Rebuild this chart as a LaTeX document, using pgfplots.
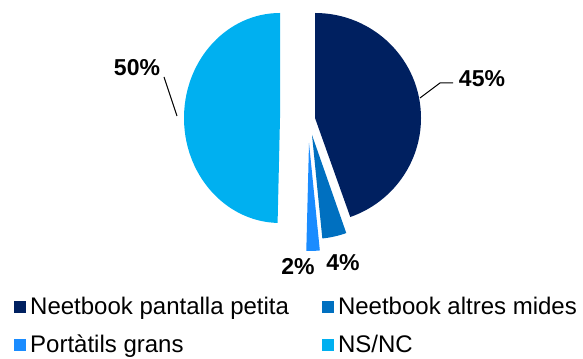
\documentclass[border=0pt]{standalone}
\usepackage{fontspec}
\setmainfont{Liberation Sans}
\usepackage{pgfplots}
\usepackage{pgfplotstable}
\pgfplotsset{compat=1.18}

\definecolor{pieA}{HTML}{002060}
\definecolor{pieB}{HTML}{0070C0}
\definecolor{pieC}{HTML}{1A8CFF}
\definecolor{pieD}{HTML}{00B0F0}

% share (%), colour, apex position (px, y down), radii
\pgfplotstableread{
share col  ax  ay  rx  ry
44.6  pieA 315 118 106 105
3.8   pieB 312 135 103 104
2.0   pieC 309 143 108 108
49.6  pieD 280 118 96  105
}\slices

\begin{document}
\begin{tikzpicture}
\begin{axis}[
  x=1pt, y=1pt,
  xmin=0, xmax=583, ymin=0, ymax=358,
  hide axis, clip=false,
  legend columns=2,
  legend cell align=left,
  legend image code/.code={\path[#1] (0pt,-6pt) rectangle (12pt,6pt); \path (14pt,0pt);},
  legend style={at={(axis cs:11,65)}, anchor=north west, draw=none, fill=none,
    font=\fontsize{24}{28}\selectfont, row sep=15pt,
    /tikz/every even column/.append style={column sep=31pt}},
]
\path (axis cs:0,0) rectangle (axis cs:583,358);

\def\cum{0}
\pgfplotsforeachungrouped \i in {0,...,3}{%
  \pgfplotstablegetelem{\i}{share}\of\slices \let\v\pgfplotsretval
  \pgfplotstablegetelem{\i}{col}\of\slices \let\c\pgfplotsretval
  \pgfplotstablegetelem{\i}{ax}\of\slices \let\ax\pgfplotsretval
  \pgfplotstablegetelem{\i}{ay}\of\slices \let\ay\pgfplotsretval
  \pgfplotstablegetelem{\i}{rx}\of\slices \let\rx\pgfplotsretval
  \pgfplotstablegetelem{\i}{ry}\of\slices \let\ry\pgfplotsretval
  \pgfmathsetmacro\aa{90-3.6*\cum}
  \pgfmathsetmacro\ab{90-3.6*(\cum+\v)}
  \pgfmathsetmacro\yy{358-\ay}
  \edef\temp{\noexpand\fill[\c] (axis cs:\ax,\yy) -- ++(\aa:\rx pt and \ry pt)
    arc[start angle=\aa, end angle=\ab, x radius=\rx pt, y radius=\ry pt] -- cycle;}
  \temp
  \pgfmathsetmacro\cum{\cum+\v}
}

% data labels
\begin{scope}[font=\bfseries\fontsize{23}{27}\selectfont]
\node at (axis cs:482,279) {45\%};
\node at (axis cs:137,290) {50\%};
\node at (axis cs:298,91) {2\%};
\node at (axis cs:343,95) {4\%};
\end{scope}
\draw[line width=1pt] (axis cs:420,260) -- (axis cs:440,275) -- (axis cs:453,275);
\draw[line width=1pt] (axis cs:164,281) -- (axis cs:177,242);

\addlegendimage{fill=pieA, draw=none}
\addlegendimage{fill=pieB, draw=none}
\addlegendimage{fill=pieC, draw=none}
\addlegendimage{fill=pieD, draw=none}
\legend{Neetbook pantalla petita, Neetbook altres mides, Portàtils grans, NS/NC}
\end{axis}
\end{tikzpicture}
\end{document}
